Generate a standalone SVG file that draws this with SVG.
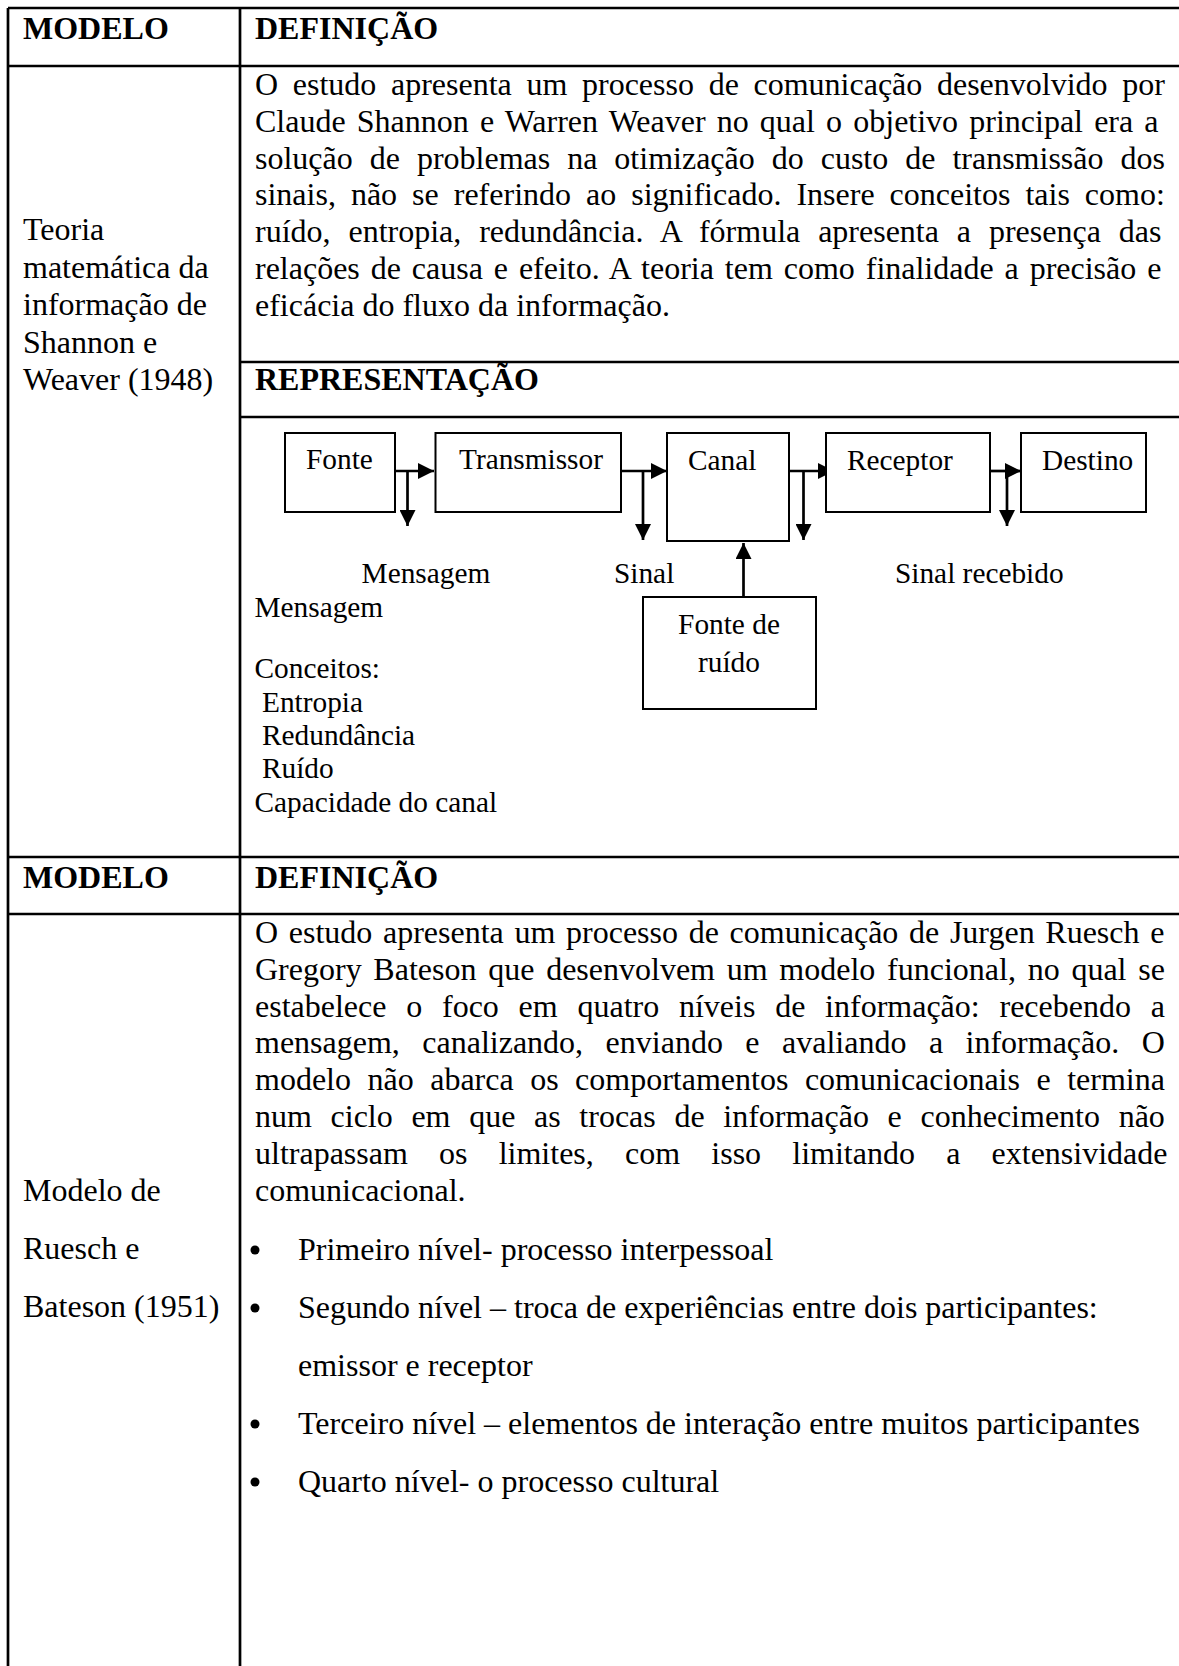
<svg xmlns="http://www.w3.org/2000/svg" width="1179" height="1666" viewBox="0 0 1179 1666">
  <style>
    .tx { font-family: "Liberation Serif", "Times New Roman", serif; font-size: 32px; fill: #000; }
    .b { font-weight: bold; }
    .dg { font-size: 29.33px; }
    .mid { text-anchor: middle; }
    .rule { stroke: #000; stroke-width: 2.7; fill: none; }
    .box { fill: #fff; stroke: #000; stroke-width: 2; }
    .wire { stroke: #000; stroke-width: 2.7; fill: none; }
  </style>
  <defs>
    <marker id="arrow" markerUnits="userSpaceOnUse" markerWidth="16" markerHeight="16" refX="16" refY="8" orient="auto">
      <path d="M0,0 L16,8 L0,16 z" fill="#000"/>
    </marker>
  </defs>

  <rect width="1179" height="1666" fill="#fff"/>

  <!-- table rules -->
  <g id="table">
    <line class="rule" x1="8" y1="8" x2="1179" y2="8"/>
    <line class="rule" x1="8" y1="66" x2="1179" y2="66"/>
    <line class="rule" x1="240" y1="362" x2="1179" y2="362"/>
    <line class="rule" x1="240" y1="417" x2="1179" y2="417"/>
    <line class="rule" x1="8" y1="857" x2="1179" y2="857"/>
    <line class="rule" x1="8" y1="914" x2="1179" y2="914"/>
    <line class="rule" x1="8" y1="8" x2="8" y2="1666"/>
    <line class="rule" x1="240" y1="8" x2="240" y2="1666"/>
  </g>

  <!-- header row 1 -->
  <g id="header-1">
    <text class="tx b" x="23" y="39">MODELO</text>
    <text class="tx b" x="255" y="39">DEFINIÇÃO</text>
  </g>

  <!-- Shannon & Weaver row -->
  <g id="model-shannon">
    <text class="tx" x="23" y="240">Teoria</text>
    <text class="tx" x="23" y="277.5">matemática da</text>
    <text class="tx" x="23" y="315">informação de</text>
    <text class="tx" x="23" y="352.5">Shannon e</text>
    <text class="tx" x="23" y="390">Weaver (1948)</text>
  </g>
  <g id="definition-shannon">
    <text class="tx" x="255" y="95" word-spacing="6.66">O estudo apresenta um processo de comunicação desenvolvido por</text>
    <text class="tx" x="255" y="131.8" word-spacing="3.15">Claude Shannon e Warren Weaver no qual o objetivo principal era a</text>
    <text class="tx" x="255" y="168.6" word-spacing="8.98">solução de problemas na otimização do custo de transmissão dos</text>
    <text class="tx" x="255" y="205.4" word-spacing="7">sinais, não se referindo ao significado. Insere conceitos tais como:</text>
    <text class="tx" x="255" y="242.2" word-spacing="9.9">ruído, entropia, redundância. A fórmula apresenta a presença das</text>
    <text class="tx" x="255" y="279" word-spacing="2.9">relações de causa e efeito. A teoria tem como finalidade a precisão e</text>
    <text class="tx" x="255" y="315.8">eficácia do fluxo da informação.</text>
    <text class="tx b" x="255" y="390">REPRESENTAÇÃO</text>
  </g>

  <!-- communication diagram: connectors -->
  <g id="connectors">
    <path class="wire" d="M377,471 H434" marker-end="url(#arrow)"/>
    <path class="wire" d="M407.5,471 V526" marker-end="url(#arrow)"/>
    <path class="wire" d="M605,471 H667" marker-end="url(#arrow)"/>
    <path class="wire" d="M643,471 V540" marker-end="url(#arrow)"/>
    <path class="wire" d="M773,471 H834" marker-end="url(#arrow)"/>
    <path class="wire" d="M803.5,471 V540" marker-end="url(#arrow)"/>
    <path class="wire" d="M990,471 H1021" marker-end="url(#arrow)"/>
    <path class="wire" d="M1007,471 V526" marker-end="url(#arrow)"/>
    <path class="wire" d="M743.5,597 V543" marker-end="url(#arrow)"/>
  </g>

  <!-- communication diagram: blocks -->
  <g id="node-fonte">
    <rect class="box" x="285" y="433" width="110" height="79"/>
    <text class="tx dg" x="306" y="469">Fonte</text>
  </g>
  <g id="node-transmissor">
    <rect class="box" x="435.5" y="433" width="185.5" height="79"/>
    <text class="tx dg" x="459" y="469">Transmissor</text>
  </g>
  <g id="node-canal">
    <rect class="box" x="667" y="433" width="122" height="108"/>
    <text class="tx dg" x="688" y="470">Canal</text>
  </g>
  <g id="node-receptor">
    <rect class="box" x="826" y="433" width="164" height="79"/>
    <text class="tx dg" x="847" y="470">Receptor</text>
  </g>
  <g id="node-destino">
    <rect class="box" x="1021" y="433" width="125" height="79"/>
    <text class="tx dg" x="1042" y="470">Destino</text>
  </g>
  <g id="node-ruido">
    <rect class="box" x="643" y="597" width="173" height="112"/>
    <text class="tx dg mid" x="729" y="634">Fonte de</text>
    <text class="tx dg mid" x="729" y="672">ruído</text>
  </g>

  <!-- diagram labels and concept list -->
  <g id="diagram-labels">
    <text class="tx dg" x="361.6" y="583">Mensagem</text>
    <text class="tx dg" x="614" y="583">Sinal</text>
    <text class="tx dg" x="895" y="583">Sinal recebido</text>
    <text class="tx dg" x="254.5" y="617">Mensagem</text>
    <text class="tx dg" x="254.5" y="678">Conceitos:</text>
    <text class="tx dg" x="262" y="712">Entropia</text>
    <text class="tx dg" x="262" y="745">Redundância</text>
    <text class="tx dg" x="262" y="778">Ruído</text>
    <text class="tx dg" x="254.5" y="812">Capacidade do canal</text>
  </g>

  <!-- header row 2 -->
  <g id="header-2">
    <text class="tx b" x="23" y="888">MODELO</text>
    <text class="tx b" x="255" y="888">DEFINIÇÃO</text>
  </g>

  <!-- Ruesch & Bateson row -->
  <g id="model-ruesch">
    <text class="tx" x="23" y="1201">Modelo de</text>
    <text class="tx" x="23" y="1259">Ruesch e</text>
    <text class="tx" x="23" y="1317">Bateson (1951)</text>
  </g>
  <g id="definition-ruesch">
    <text class="tx" x="255" y="943" word-spacing="2.67">O estudo apresenta um processo de comunicação de Jurgen Ruesch e</text>
    <text class="tx" x="255" y="979.8" word-spacing="3.74">Gregory Bateson que desenvolvem um modelo funcional, no qual se</text>
    <text class="tx" x="255" y="1016.6" word-spacing="11.76">estabelece o foco em quatro níveis de informação: recebendo a</text>
    <text class="tx" x="255" y="1053.4" word-spacing="14.47">mensagem, canalizando, enviando e avaliando a informação. O</text>
    <text class="tx" x="255" y="1090.2" word-spacing="8.5">modelo não abarca os comportamentos comunicacionais e termina</text>
    <text class="tx" x="255" y="1127" word-spacing="10.66">num ciclo em que as trocas de informação e conhecimento não</text>
    <text class="tx" x="255" y="1163.8" word-spacing="23.2">ultrapassam os limites, com isso limitando a extensividade</text>
    <text class="tx" x="255" y="1200.6">comunicacional.</text>
  </g>
  <g id="levels">
    <circle cx="255" cy="1250" r="4.5"/>
    <text class="tx" x="298" y="1260">Primeiro nível- processo interpessoal</text>
    <circle cx="255" cy="1308" r="4.5"/>
    <text class="tx" x="298" y="1318">Segundo nível – troca de experiências entre dois participantes:</text>
    <text class="tx" x="298" y="1376">emissor e receptor</text>
    <circle cx="255" cy="1424" r="4.5"/>
    <text class="tx" x="298" y="1434">Terceiro nível – elementos de interação entre muitos participantes</text>
    <circle cx="255" cy="1482" r="4.5"/>
    <text class="tx" x="298" y="1492">Quarto nível- o processo cultural</text>
  </g>
</svg>
